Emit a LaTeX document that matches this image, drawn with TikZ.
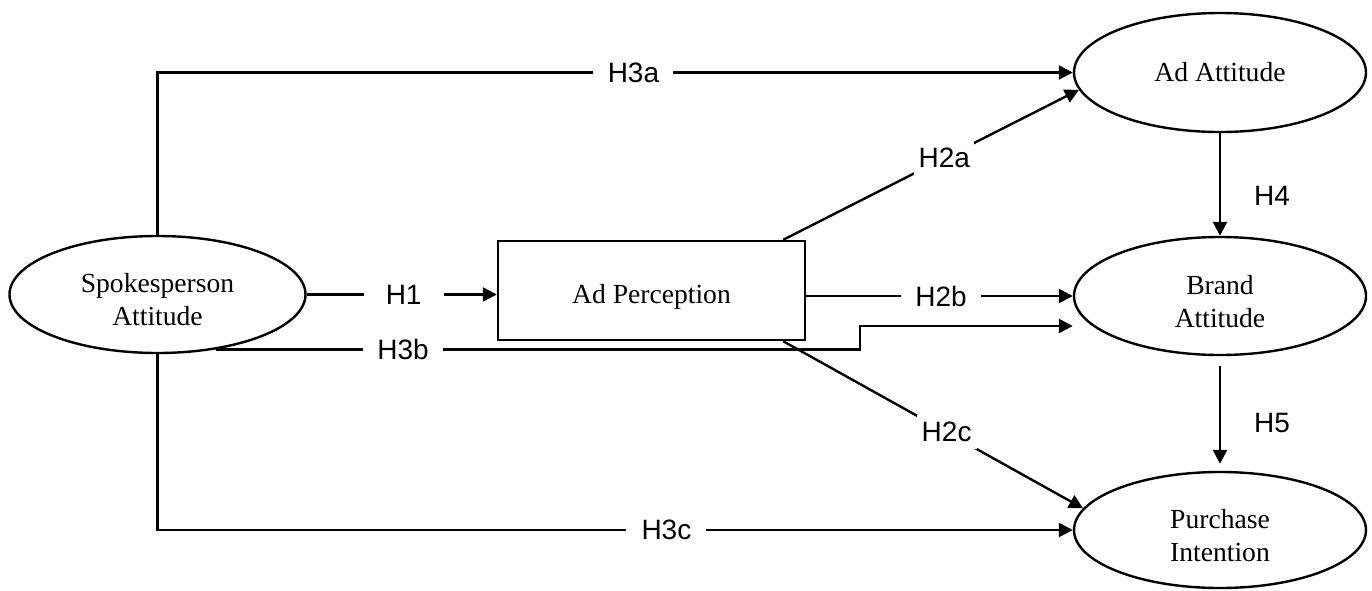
\documentclass[tikz,border=0pt]{standalone}
\usepackage{fontspec}
\setmainfont{Liberation Serif}
\newfontfamily\labfont{Liberation Sans}
\usetikzlibrary{arrows.meta,shapes.geometric}
\newcommand{\dntext}[2]{\raisebox{#1}[\height][\depth]{\begin{tabular}{@{}c@{}}#2\end{tabular}}}
\begin{document}
\begin{tikzpicture}[x=0.5pt,y=-0.5pt,
  line width=1.2pt,
  conn/.style={draw,-{Triangle[length=7pt,width=7pt]}},
  oval/.style={ellipse,draw,inner sep=0pt,
    font=\fontsize{13.8}{16.5}\selectfont},
  boxnode/.style={rectangle,draw,inner sep=0pt,
    font=\fontsize{13.8}{16.5}\selectfont},
  lab/.style={fill=white,inner sep=1pt,minimum width=40pt,minimum height=17pt,
    font=\labfont\fontsize{14}{16}\selectfont},
  sidelab/.style={inner sep=0pt,font=\labfont\fontsize{14}{16}\selectfont}]
\useasboundingbox (0,0) rectangle (1372,590);
% nodes
\node[oval,minimum width=148pt,minimum height=58.5pt] (spk) at (157.5,294.5) {\dntext{-4pt}{Spokesperson\\Attitude}};
\node[oval,minimum width=146pt,minimum height=59.5pt] (adatt) at (1220,72.5) {\dntext{-1pt}{Ad Attitude}};
\node[oval,minimum width=146pt,minimum height=59pt] (brand) at (1220,296) {\dntext{-4pt}{Brand\\Attitude}};
\node[oval,minimum width=146pt,minimum height=58pt] (pur) at (1220,530) {\dntext{-4pt}{Purchase\\Intention}};
\node[boxnode,minimum width=153.5pt,minimum height=49.5pt] (perc) at (651.5,290.5) {\dntext{-3pt}{Ad Perception}};
\coordinate (h3bstep) at (860,326);
% connectors
\draw[conn] (spk.north) |- (adatt.west) node[lab,pos=0.76] (l3a) {H3a};
\draw[conn] (spk.south) |- (pur.west) node[lab,pos=0.778] (l3c) {H3c};
\draw[conn] (spk.east) -- node[lab,pos=0.51] (l1) {H1} (perc.west |- spk.east);
\draw[conn] (perc.east |- brand.west) -- node[lab,pos=0.506] (l2b) {H2b} (brand.west);
\draw[conn] (spk.-43) -- node[lab,pos=0.29] (l3b) {H3b} (spk.-43 -| h3bstep) -- (h3bstep) -- (h3bstep -| brand.west);
\draw[conn] ([xshift=-11.5pt]perc.north east) -- node[lab,pos=0.545,minimum width=30pt] (l2a) {H2a} (adatt.187);
\draw[conn] ([xshift=-11.5pt]perc.south east) -- node[lab,pos=0.545,minimum width=30pt] (l2c) {H2c} (pur.171);
\draw[conn] (adatt.south) -- (brand.north);
\draw[conn] ([yshift=-5pt]brand.south) -- ([yshift=3.5pt]pur.north);
\node[sidelab] (l4) at (1272,196) {H4};
\node[sidelab] (l5) at (1272,423) {H5};
\end{tikzpicture}
\end{document}
